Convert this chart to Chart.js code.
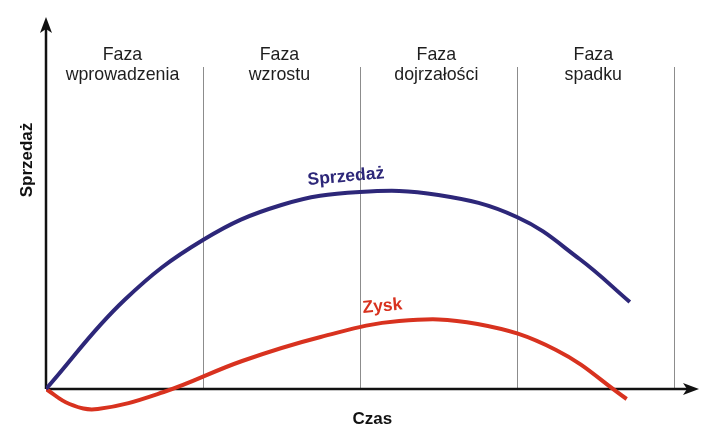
<!DOCTYPE html>
<html>
<head>
<meta charset="utf-8">
<script src="https://cdn.jsdelivr.net/npm/chart.js@4"></script>
<style>
  html, body { margin: 0; padding: 0; background: #fff; }
  #wrap { width: 707px; height: 434px; position: relative; }
</style>
</head>
<body>
<div id="wrap"><canvas id="lifeChart"></canvas></div>
<script>
"use strict";

// time axis in "phase" units, one unit per phase
const salesX = [0, 0.5, 1.0, 1.5, 2.0, 2.5, 3.0, 3.4, 3.72];
const salesY = [0, 89, 149, 184, 197, 194, 172, 130, 87];

const profitX = [0, 0.15, 0.33, 0.75, 1.25, 1.75, 2.25, 2.75, 3.25, 3.7];
const profitY = [0, -15, -20, -3, 28, 52, 68, 65, 39, -10];

const phaseBounds = [1, 2, 3, 4];
const phaseNames = [
  ["Faza", "wprowadzenia"],
  ["Faza", "wzrostu"],
  ["Faza", "dojrzałości"],
  ["Faza", "spadku"],
];

const xTitle = "Czas";
const yTitle = "Sprzedaż";
const seriesNames = ["Sprzedaż", "Zysk"];

const SALES_COLOR = "#2d2779";
const PROFIT_COLOR = "#d8321f";
const FONT = "'Liberation Sans', Arial, sans-serif";

function toPoints(xs, ys) {
  return xs.map((x, i) => ({ x: x, y: ys[i] }));
}

function arrow(ctx, x, y, dir) {
  // dir: "up" or "right"
  ctx.beginPath();
  if (dir === "up") {
    ctx.moveTo(x, y);
    ctx.lineTo(x - 6, y + 16);
    ctx.lineTo(x, y + 12);
    ctx.lineTo(x + 6, y + 16);
  } else {
    ctx.moveTo(x, y);
    ctx.lineTo(x - 16, y - 6);
    ctx.lineTo(x - 12, y);
    ctx.lineTo(x - 16, y + 6);
  }
  ctx.closePath();
  ctx.fill();
}

const decorPlugin = {
  id: "lifecycleDecor",
  beforeDatasetsDraw(chart) {
    const { ctx, scales } = chart;
    const xs = scales.x;
    const ys = scales.y;
    const x0 = xs.getPixelForValue(0);
    const y0 = ys.getPixelForValue(0);

    ctx.save();
    // phase separators
    ctx.strokeStyle = "#8c8c8c";
    ctx.lineWidth = 1;
    const lineTop = ys.getPixelForValue(322);
    phaseBounds.forEach((b) => {
      const px = Math.round(xs.getPixelForValue(b)) + 0.5;
      ctx.beginPath();
      ctx.moveTo(px, lineTop);
      ctx.lineTo(px, y0);
      ctx.stroke();
    });

    // axes
    const xEnd = xs.getPixelForValue(xs.max) - 3;
    const yEnd = ys.getPixelForValue(ys.max);
    ctx.strokeStyle = "#111";
    ctx.fillStyle = "#111";
    ctx.lineWidth = 2.5;
    ctx.beginPath();
    ctx.moveTo(x0, y0);
    ctx.lineTo(xEnd - 10, y0);
    ctx.moveTo(x0, y0);
    ctx.lineTo(x0, yEnd + 10);
    ctx.stroke();
    arrow(ctx, xEnd, y0, "right");
    arrow(ctx, x0, yEnd, "up");

    // phase names
    ctx.font = "17.8px " + FONT;
    ctx.fillStyle = "#1e1e1e";
    ctx.textAlign = "center";
    ctx.textBaseline = "alphabetic";
    phaseNames.forEach((lines, i) => {
      const cx = xs.getPixelForValue(i + 0.5) - 2;
      lines.forEach((t, j) => {
        ctx.fillText(t, cx, 60 + j * 20);
      });
    });

    // axis titles
    ctx.font = "bold 17px " + FONT;
    ctx.fillStyle = "#111";
    ctx.fillText(xTitle, xs.getPixelForValue(2.08), 424);
    ctx.save();
    ctx.translate(32, 160);
    ctx.rotate(-Math.PI / 2);
    ctx.fillText(yTitle, 0, 0);
    ctx.restore();
    ctx.restore();
  },
  afterDatasetsDraw(chart) {
    const { ctx, scales } = chart;
    const xs = scales.x;
    const ys = scales.y;
    ctx.save();
    ctx.font = "bold 17.5px " + FONT;
    ctx.textAlign = "left";
    ctx.textBaseline = "alphabetic";

    ctx.fillStyle = SALES_COLOR;
    ctx.save();
    ctx.translate(xs.getPixelForValue(1.67), ys.getPixelForValue(204));
    ctx.rotate(-0.09);
    ctx.fillText(seriesNames[0], 0, 0);
    ctx.restore();

    ctx.fillStyle = PROFIT_COLOR;
    ctx.save();
    ctx.translate(xs.getPixelForValue(2.02), ys.getPixelForValue(76));
    ctx.rotate(-0.09);
    ctx.fillText(seriesNames[1], 0, 0);
    ctx.restore();
    ctx.restore();
  },
};

const ctx = document.getElementById("lifeChart").getContext("2d");

new Chart(ctx, {
  type: "line",
  data: {
    datasets: [
      {
        label: seriesNames[0],
        data: toPoints(salesX, salesY),
        borderColor: SALES_COLOR,
        borderWidth: 4,
        pointRadius: 0,
        tension: 0.4,
        fill: false,
      },
      {
        label: seriesNames[1],
        data: toPoints(profitX, profitY),
        borderColor: PROFIT_COLOR,
        borderWidth: 4,
        pointRadius: 0,
        tension: 0.4,
        fill: false,
      },
    ],
  },
  options: {
    responsive: true,
    maintainAspectRatio: false,
    animation: false,
    layout: { padding: { left: 46, right: 5, top: 17, bottom: 5 } },
    plugins: {
      legend: { display: false },
      tooltip: { enabled: false },
    },
    scales: {
      x: { type: "linear", display: false, min: 0, max: 4.18 },
      y: { type: "linear", display: false, min: -40, max: 372 },
    },
  },
  plugins: [decorPlugin],
});
</script>
</body>
</html>
